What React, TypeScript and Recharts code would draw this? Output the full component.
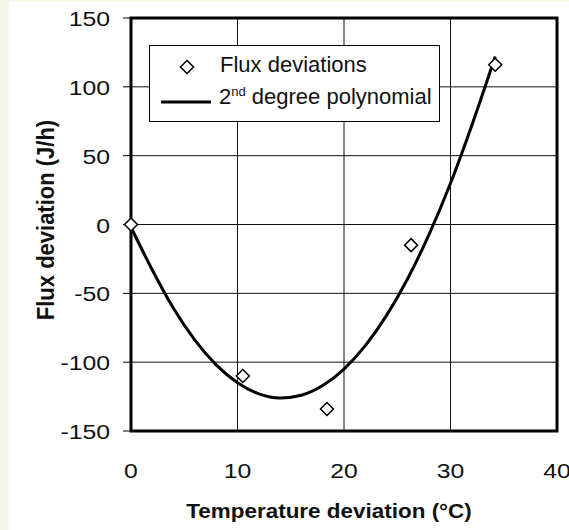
import React from "react"
import {
  ComposedChart, Line, Scatter, XAxis, YAxis, CartesianGrid, ReferenceArea, Legend, Label,
} from "recharts"

// measured flux deviations
const tempDeviation = [0, 10.5, 18.4, 26.3, 34.2]
const fluxDeviation = [0, -110, -134, -15, 116]

// 2nd degree fit, sampled along the curve
const fitTemp = [0, 2, 4, 6, 8, 10, 12, 14, 16, 18, 20, 22, 24, 26, 28, 30, 32, 34.2]
const fitFlux = [-2, -33, -61, -84, -102, -115, -123, -126, -124, -117, -105, -88, -66, -39, -7, 30, 72, 122]

const xTicks = [0, 10, 20, 30, 40]
const yTicks = [-150, -100, -50, 0, 50, 100, 150]

const points = tempDeviation.map((x, i) => ({ x, y: fluxDeviation[i] }))
const fit = fitTemp.map((x, i) => ({ x, y: fitFlux[i] }))

const FONT = "'Liberation Sans', Arial, sans-serif"

function Diamond({ cx, cy }: { cx?: number; cy?: number }): React.ReactNode {
  if (cx == null || cy == null) return null
  const r = 6.5
  return (
    <path
      d={`M${cx},${cy - r}L${cx + r},${cy}L${cx},${cy + r}L${cx - r},${cy}Z`}
      fill="#fff" stroke="#000" strokeWidth={1.5}
    />
  )
}

function YTick({ x, y, payload }: any): React.ReactNode {
  return (
    <text transform={`translate(${x},${y + 8}) scale(1.18,1)`} textAnchor="end"
      fontFamily={FONT} fontSize={21} fill="#111">
      {payload.value}
    </text>
  )
}

function XTick({ x, y, payload }: any): React.ReactNode {
  return (
    <text transform={`translate(${x},${y + 47}) scale(1.18,1)`} textAnchor="middle"
      fontFamily={FONT} fontSize={21} fill="#111">
      {payload.value}
    </text>
  )
}

function LegendBox(): React.ReactNode {
  return (
    <div style={{ width: 291, height: 77, border: "1.5px solid #000", background: "#fff", boxSizing: "border-box" }}>
      <svg width={288} height={74} style={{ display: "block" }}>
        <Diamond cx={37} cy={21} />
        <text x={70} y={26} fontFamily={FONT} fontSize={22} fill="#111">Flux deviations</text>
        <line x1={11} x2={61} y1={56} y2={56} stroke="#000" strokeWidth={3} />
        <text x={69} y={58} fontFamily={FONT} fontSize={22} fill="#111">
          2<tspan dy={-8} fontSize={13}>nd</tspan><tspan dy={8}> degree polynomial</tspan>
        </text>
      </svg>
    </div>
  )
}

export default function App(): React.ReactNode {
  return (
    <div style={{ position: "absolute", left: 0, top: 0, width: 569, height: 530, background: "#f6f7ea", overflow: "hidden" }}>
      <div style={{ position: "absolute", left: 9, top: 2, width: 560, height: 528, background: "#fff" }} />
      <div style={{ position: "absolute", left: 0, top: 0 }}>
        <ComposedChart width={569} height={530} margin={{ top: 18, right: 12, bottom: 39, left: 71 }}>
          <CartesianGrid stroke="#111" strokeWidth={1} />
          <XAxis
            type="number" dataKey="x" domain={[0, 40]} ticks={xTicks} interval={0}
            axisLine={false} tickLine={false} tickSize={0} tickMargin={0} height={60}
            tick={<XTick />}
          >
            <Label content={({ viewBox }: any) => (
              <text transform={`translate(${viewBox.x + 198},${viewBox.y + 87}) scale(1.07,1)`}
                textAnchor="middle" fontFamily={FONT} fontWeight="bold" fontSize={21} fill="#111">
                Temperature deviation (°C)
              </text>
            )} />
          </XAxis>
          <YAxis
            type="number" dataKey="y" domain={[-150, 150]} ticks={yTicks} interval={0}
            axisLine={false} tickSize={8} tickMargin={13} width={60}
            tickLine={{ stroke: "#000", strokeWidth: 1 }}
            tick={<YTick />}
          >
            <Label content={({ viewBox }: any) => (
              <text transform={`translate(${viewBox.x - 17},${viewBox.y + 202}) scale(1.05,1) rotate(-90)`}
                textAnchor="middle" fontFamily={FONT} fontWeight="bold" fontSize={22} fill="#111">
                Flux deviation (J/h)
              </text>
            )} />
          </YAxis>
          <ReferenceArea x1={0} x2={40} y1={-150} y2={150} fill="none" stroke="#000" strokeWidth={3} fillOpacity={0} />
          <Scatter data={points} dataKey="y" shape={<Diamond />} isAnimationActive={false} />
          <Line data={fit} dataKey="y" type="monotone" stroke="#000" strokeWidth={3}
            dot={false} activeDot={false} isAnimationActive={false} />
          <Legend
            layout="horizontal" verticalAlign="middle" align="center"
            content={<LegendBox />}
            wrapperStyle={{ left: 149, top: 45, width: 291, height: 77 }}
          />
        </ComposedChart>
      </div>
    </div>
  )
}
